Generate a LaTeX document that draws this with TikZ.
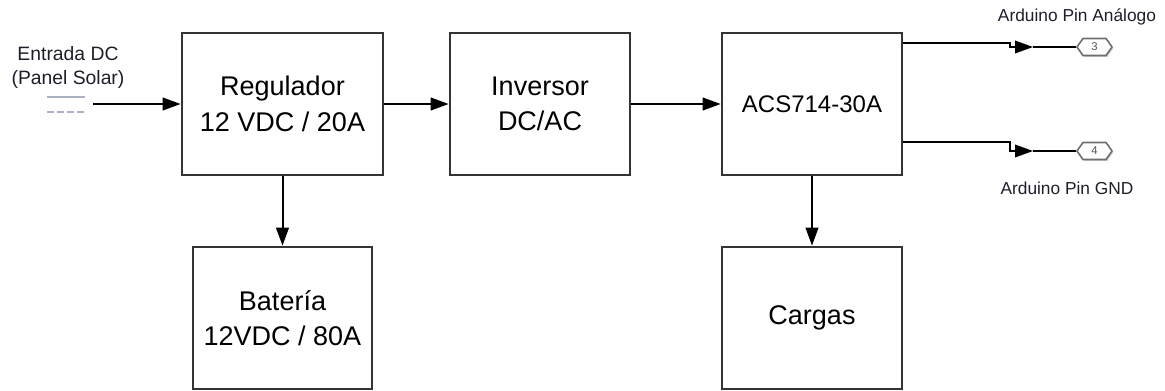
\documentclass[tikz,border=0pt]{standalone}
\usepackage{fontspec}
\setmainfont{Liberation Sans}
\usetikzlibrary{arrows.meta,positioning,shapes.symbols,shadows}
\definecolor{blockgray}{RGB}{52,52,52}
\definecolor{pingray}{RGB}{110,110,110}
\definecolor{dcgray}{RGB}{170,178,196}
\definecolor{labelink}{RGB}{30,30,42}

\begin{document}
\begin{tikzpicture}[x=0.75pt,y=-0.75pt,>={Triangle[length=13.5pt,width=9.5pt]},
  blockbox/.style={draw=blockgray,line width=2pt,fill=white,align=center,inner sep=0pt,
    font=\fontsize{20.25}{26.5}\selectfont},
  flowarrow/.style={->,line width=1.5pt,black},
  pinhex/.style={signal,signal to=east and west,signal pointer angle=110,draw=pingray,
    line width=1.2pt,fill=white,minimum width=26.25pt,minimum height=12.75pt,inner sep=0pt,
    font=\fontsize{8.5}{9}\selectfont,text=pingray!80!black,
    drop shadow={opacity=.35,shadow xshift=1pt,shadow yshift=-1pt}},
  pinlabel/.style={font=\fontsize{13}{15}\selectfont,text=labelink}]
 \useasboundingbox (0,0) rectangle (1165,390);
 % blocks
 \node[blockbox,minimum width=150.75pt,minimum height=106.5pt] (reg) at (282.5,104)
   {Regulador\\12 VDC / 20A};
 \node[blockbox,minimum width=134.25pt,minimum height=106.5pt] (bat) at (282.5,318)
   {Batería\\12VDC / 80A};
 \node[blockbox,minimum width=135pt,minimum height=106.5pt] (inv) at (540,104)
   {Inversor\\DC/AC};
 \node[blockbox,minimum width=135pt,minimum height=106.5pt,
   font=\fontsize{18}{22}\selectfont] (acs) at (812,104) {ACS714-30A};
 \node[blockbox,minimum width=135pt,minimum height=106.5pt] (car) at (812,318) {Cargas};
 % DC input
 \node[font=\fontsize{14.5}{18}\selectfont,align=center,text=labelink] (dclabel) at (68,67)
   {Entrada DC\\(Panel Solar)};
 \draw[dcgray,line width=1.6pt] (47,97) -- (85,97);
 \draw[dcgray,line width=1.6pt,dash pattern=on 5pt off 2.5pt] (47,112) -- (85,112);
 \coordinate (dcin) at (93,104);
 \draw[flowarrow] (dcin) -- (reg.west);
 \draw[flowarrow] (reg.east) -- (inv.west);
 \draw[flowarrow] (inv.east) -- (acs.west);
 \draw[flowarrow] (reg.south) -- (bat.north);
 \draw[flowarrow] (acs.south) -- (car.north);
 % Arduino pins
 \node[pinhex] (pin3) at (1094.5,47) {3};
 \node[pinhex] (pin4) at (1094.5,151) {4};
 \node[pinlabel] (lblA) at (1077,17) {Arduino Pin Análogo};
 \node[pinlabel] (lblG) at (1067,188) {Arduino Pin GND};
 \coordinate (jogA) at (1010,43);
 \coordinate (tipA) at (1033,47);
 \coordinate (jogG) at (1010,142);
 \coordinate (tipG) at (1033,151);
 \draw[line width=1.2pt,->] (acs.east |- jogA) -- (jogA) |- (tipA);
 \draw[line width=2.2pt] (tipA) -- (pin3.west);
 \draw[line width=1.2pt,->] (acs.east |- jogG) -- (jogG) |- (tipG);
 \draw[line width=2.2pt] (tipG) -- (pin4.west);
\end{tikzpicture}
\end{document}
